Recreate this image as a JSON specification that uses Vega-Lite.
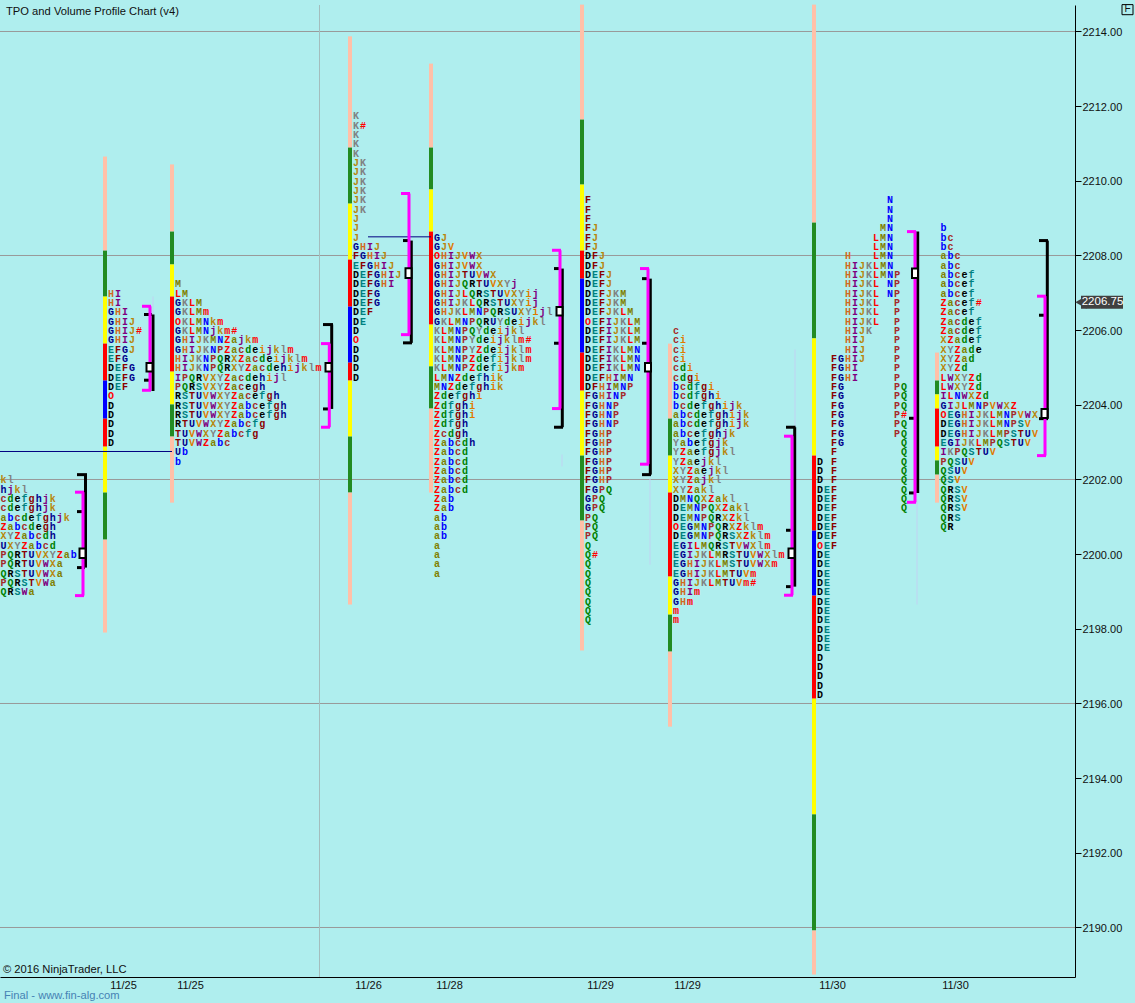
{
"$schema":"https://vega.github.io/schema/vega-lite/v6.json",
"width":1075,"height":972,"autosize":"none",
"padding":{"left":0,"top":5,"right":60,"bottom":26},
"background":"#AFEEEE",
"config":{"view":{"stroke":null},"text":{"font":"Liberation Mono","fontWeight":"bold","fontSize":10,"align":"center","baseline":"middle","dy":1}},
"resolve":{"scale":{"color":"independent"}},
"datasets":{
"grid":[{"p":2214},{"p":2208},{"p":2202},{"p":2196},{"p":2190}],
"sep":[{"x":319.5}],
"bars":[
{"x":105,"p":2210.65,"p2":2208.13,"b":"pale"},{"x":105,"p":2208.13,"p2":2206.9,"b":"green"},{"x":105,"p":2206.9,"p2":2205.64,"b":"yellow"},{"x":105,"p":2205.64,"p2":2204.65,"b":"red"},{"x":105,"p":2204.65,"p2":2203.63,"b":"blue"},{"x":105,"p":2203.63,"p2":2202.88,"b":"red"},{"x":105,"p":2202.88,"p2":2201.65,"b":"yellow"},{"x":105,"p":2201.65,"p2":2200.39,"b":"green"},{"x":105,"p":2200.39,"p2":2197.9,"b":"pale"},
{"x":172,"p":2210.44,"p2":2208.64,"b":"pale"},{"x":172,"p":2208.64,"p2":2207.76,"b":"green"},{"x":172,"p":2207.76,"p2":2206.9,"b":"yellow"},{"x":172,"p":2206.9,"p2":2204.89,"b":"red"},{"x":172,"p":2204.89,"p2":2204.01,"b":"yellow"},{"x":172,"p":2204.01,"p2":2203.15,"b":"green"},{"x":172,"p":2203.15,"p2":2201.38,"b":"pale"},
{"x":350,"p":2213.87,"p2":2210.89,"b":"pale"},{"x":350,"p":2210.89,"p2":2209.39,"b":"green"},{"x":350,"p":2209.39,"p2":2207.89,"b":"yellow"},{"x":350,"p":2207.89,"p2":2206.63,"b":"red"},{"x":350,"p":2206.63,"p2":2205.13,"b":"blue"},{"x":350,"p":2205.13,"p2":2204.65,"b":"red"},{"x":350,"p":2204.65,"p2":2203.15,"b":"yellow"},{"x":350,"p":2203.15,"p2":2201.65,"b":"green"},{"x":350,"p":2201.65,"p2":2198.65,"b":"pale"},
{"x":431,"p":2213.14,"p2":2210.89,"b":"pale"},{"x":431,"p":2210.89,"p2":2209.77,"b":"green"},{"x":431,"p":2209.77,"p2":2208.64,"b":"yellow"},{"x":431,"p":2208.64,"p2":2206.15,"b":"red"},{"x":431,"p":2206.15,"p2":2205.03,"b":"yellow"},{"x":431,"p":2205.03,"p2":2203.9,"b":"green"},{"x":431,"p":2203.9,"p2":2201.65,"b":"pale"},
{"x":582,"p":2214.72,"p2":2211.64,"b":"pale"},{"x":582,"p":2211.64,"p2":2209.9,"b":"green"},{"x":582,"p":2209.9,"p2":2208.13,"b":"yellow"},{"x":582,"p":2208.13,"p2":2207.38,"b":"red"},{"x":582,"p":2207.38,"p2":2205.4,"b":"blue"},{"x":582,"p":2205.4,"p2":2204.38,"b":"red"},{"x":582,"p":2204.38,"p2":2202.64,"b":"yellow"},{"x":582,"p":2202.64,"p2":2200.9,"b":"green"},{"x":582,"p":2200.9,"p2":2197.42,"b":"pale"},
{"x":670,"p":2205.64,"p2":2203.63,"b":"pale"},{"x":670,"p":2203.63,"p2":2202.64,"b":"green"},{"x":670,"p":2202.64,"p2":2201.65,"b":"yellow"},{"x":670,"p":2201.65,"p2":2199.4,"b":"red"},{"x":670,"p":2199.4,"p2":2198.38,"b":"yellow"},{"x":670,"p":2198.38,"p2":2197.39,"b":"green"},{"x":670,"p":2197.39,"p2":2195.38,"b":"pale"},
{"x":814,"p":2214.72,"p2":2208.88,"b":"pale"},{"x":814,"p":2208.88,"p2":2205.78,"b":"green"},{"x":814,"p":2205.78,"p2":2202.64,"b":"yellow"},{"x":814,"p":2202.64,"p2":2200.63,"b":"red"},{"x":814,"p":2200.63,"p2":2198.89,"b":"blue"},{"x":814,"p":2198.89,"p2":2196.13,"b":"red"},{"x":814,"p":2196.13,"p2":2193.03,"b":"yellow"},{"x":814,"p":2193.03,"p2":2189.92,"b":"green"},{"x":814,"p":2189.92,"p2":2188.74,"b":"pale"},
{"x":937,"p":2205.4,"p2":2204.65,"b":"pale"},{"x":937,"p":2204.65,"p2":2204.28,"b":"green"},{"x":937,"p":2204.28,"p2":2203.9,"b":"yellow"},{"x":937,"p":2203.9,"p2":2202.88,"b":"red"},{"x":937,"p":2202.88,"p2":2202.51,"b":"yellow"},{"x":937,"p":2202.51,"p2":2202.13,"b":"green"},{"x":937,"p":2202.13,"p2":2201.38,"b":"pale"}
],
"faint":[{"x":153,"p":2206.9,"p2":2205.7},{"x":795,"p":2205.48,"p2":2203.34},{"x":650,"p":2202.05,"p2":2199.72},{"x":562,"p":2202.67,"p2":2202.35},{"x":917,"p":2201.46,"p2":2198.65}],
"thin":[{"x":0,"x2":172,"p":2202.75},{"x":368,"x2":431,"p":2208.5}],
"black":[
{"x":85.5,"x2":85.5,"p":2202.13,"p2":2199.64},{"x":77,"x2":87,"p":2202.13,"p2":2202.13},{"x":77,"x2":84,"p":2201.14,"p2":2201.14},{"x":77,"x2":85,"p":2199.64,"p2":2199.64},
{"x":153,"x2":153,"p":2206.42,"p2":2204.37},{"x":144,"x2":152,"p":2206.42,"p2":2206.42},{"x":144,"x2":149,"p":2204.66,"p2":2204.66},
{"x":331.7,"x2":331.7,"p":2206.15,"p2":2203.89},{"x":323,"x2":333,"p":2206.15,"p2":2206.15},{"x":323,"x2":329,"p":2203.89,"p2":2203.89},
{"x":411.3,"x2":411.3,"p":2208.4,"p2":2205.66},{"x":403,"x2":408,"p":2208.4,"p2":2208.4},{"x":403,"x2":412,"p":2205.66,"p2":2205.66},
{"x":562.3,"x2":562.3,"p":2207.65,"p2":2203.4},{"x":554,"x2":559,"p":2207.65,"p2":2207.65},{"x":554,"x2":559,"p":2205.65,"p2":2205.65},{"x":554,"x2":563,"p":2203.4,"p2":2203.4},
{"x":650.3,"x2":650.3,"p":2207.38,"p2":2202.13},{"x":642,"x2":647,"p":2207.38,"p2":2207.38},{"x":642,"x2":647,"p":2205.65,"p2":2205.65},{"x":642,"x2":651,"p":2202.13,"p2":2202.13},
{"x":794.7,"x2":794.7,"p":2203.4,"p2":2199.13},{"x":786,"x2":795.5,"p":2203.4,"p2":2203.4},{"x":786,"x2":791,"p":2200.64,"p2":2200.64},{"x":786,"x2":791,"p":2199.13,"p2":2199.13},
{"x":917.7,"x2":917.7,"p":2208.64,"p2":2201.64},{"x":909,"x2":914,"p":2203.64,"p2":2203.64},{"x":909,"x2":914,"p":2201.64,"p2":2201.64},
{"x":1047.3,"x2":1047.3,"p":2208.4,"p2":2203.63},{"x":1039,"x2":1048,"p":2208.4,"p2":2208.4},{"x":1039,"x2":1044,"p":2206.4,"p2":2206.4},{"x":1039,"x2":1048,"p":2203.63,"p2":2203.63}
],
"magenta":[
{"x":83,"x2":83,"p":2201.66,"p2":2198.89},{"x":75,"x2":84,"p":2201.66,"p2":2201.66},{"x":75,"x2":84,"p":2198.89,"p2":2198.89},
{"x":150,"x2":150,"p":2206.64,"p2":2204.39},{"x":142,"x2":151,"p":2206.64,"p2":2206.64},{"x":142,"x2":151,"p":2204.39,"p2":2204.39},
{"x":329.3,"x2":329.3,"p":2205.64,"p2":2203.4},{"x":321,"x2":330,"p":2205.64,"p2":2205.64},{"x":321,"x2":330,"p":2203.4,"p2":2203.4},
{"x":409,"x2":409,"p":2209.66,"p2":2205.88},{"x":401,"x2":410,"p":2209.66,"p2":2209.66},{"x":401,"x2":410,"p":2205.88,"p2":2205.88},
{"x":560,"x2":560,"p":2208.14,"p2":2203.9},{"x":552,"x2":561,"p":2208.14,"p2":2208.14},{"x":552,"x2":561,"p":2203.9,"p2":2203.9},
{"x":648,"x2":648,"p":2207.65,"p2":2202.41},{"x":640,"x2":649,"p":2207.65,"p2":2207.65},{"x":640,"x2":649,"p":2202.41,"p2":2202.41},
{"x":792,"x2":792,"p":2203.16,"p2":2198.9},{"x":784,"x2":793,"p":2203.16,"p2":2203.16},{"x":784,"x2":793,"p":2198.9,"p2":2198.9},
{"x":915,"x2":915,"p":2208.64,"p2":2201.39},{"x":907,"x2":916,"p":2208.64,"p2":2208.64},{"x":907,"x2":916,"p":2201.39,"p2":2201.39},
{"x":1045,"x2":1045,"p":2206.91,"p2":2202.64},{"x":1037,"x2":1046,"p":2206.91,"p2":2206.91},{"x":1037,"x2":1046,"p":2202.64,"p2":2202.64}
],
"poc":[
{"x":79.5,"x2":85.5,"p":2200.15,"p2":2199.9},{"x":146.5,"x2":152.5,"p":2205.12,"p2":2204.89},{"x":325.5,"x2":331.5,"p":2205.12,"p2":2204.89},{"x":405.5,"x2":411.5,"p":2207.66,"p2":2207.4},{"x":556.5,"x2":562.5,"p":2206.62,"p2":2206.39},{"x":645,"x2":651,"p":2205.12,"p2":2204.89},{"x":788.5,"x2":794.5,"p":2200.15,"p2":2199.9},{"x":912,"x2":918,"p":2207.65,"p2":2207.4},{"x":1041.5,"x2":1047.5,"p":2203.89,"p2":2203.65}
],
"letters":[
{"x":3.5,"p":2202,"s":["k","l"]},{"x":3.5,"p":2201.75,"s":["h","j","k","l"]},{"x":3.5,"p":2201.5,"s":["c","d","e","f","g","h","j","k"]},{"x":3.5,"p":2201.25,"s":["c","d","e","f","g","h","j","k"]},{"x":3.5,"p":2201,"s":["a","b","c","d","e","f","g","h","j","k"]},{"x":3.5,"p":2200.75,"s":["Z","a","b","c","d","e","g","h"]},{"x":3.5,"p":2200.5,"s":["X","Y","Z","a","b","c","d","h"]},{"x":3.5,"p":2200.25,"s":["U","X","Y","Z","a","b","c","d"]},{"x":3.5,"p":2200,"s":["P","Q","R","T","U","V","X","Y","Z","a","b"]},{"x":3.5,"p":2199.75,"s":["P","Q","R","T","U","V","W","X","a"]},{"x":3.5,"p":2199.5,"s":["Q","R","S","T","U","V","W","X","a"]},{"x":3.5,"p":2199.25,"s":["P","Q","R","S","T","V","W","a"]},{"x":3.5,"p":2199,"s":["Q","R","S","W","a"]},
{"x":111,"p":2207,"s":["H","I"]},{"x":111,"p":2206.75,"s":["H","I"]},{"x":111,"p":2206.5,"s":["G","H","I"]},{"x":111,"p":2206.25,"s":["G","H","I","J"]},{"x":111,"p":2206,"s":["G","H","I","J","#"]},{"x":111,"p":2205.75,"s":["G","H","I","J"]},{"x":111,"p":2205.5,"s":["E","F","G","J"]},{"x":111,"p":2205.25,"s":["E","F","G"]},{"x":111,"p":2205,"s":["D","E","F","G"]},{"x":111,"p":2204.75,"s":["D","E","F","G"]},{"x":111,"p":2204.5,"s":["D","E","F"]},{"x":111,"p":2204.25,"s":["O"]},{"x":111,"p":2204,"s":["D"]},{"x":111,"p":2203.75,"s":["D"]},{"x":111,"p":2203.5,"s":["D"]},{"x":111,"p":2203.25,"s":["D"]},{"x":111,"p":2203,"s":["D"]},
{"x":178,"p":2207.25,"s":["M"]},{"x":178,"p":2207,"s":["L","M"]},{"x":178,"p":2206.75,"s":["G","K","L","M"]},{"x":178,"p":2206.5,"s":["G","K","L","M","m"]},{"x":178,"p":2206.25,"s":["O","K","L","M","N","k","m"]},{"x":178,"p":2206,"s":["G","K","L","M","N","j","k","m","#"]},{"x":178,"p":2205.75,"s":["G","H","I","J","K","M","N","Z","a","j","k","m"]},{"x":178,"p":2205.5,"s":["G","H","I","J","K","N","P","Z","a","c","d","e","i","j","k","l","m"]},{"x":178,"p":2205.25,"s":["H","I","J","K","N","P","Q","R","X","Z","a","c","d","e","i","j","k","l","m"]},{"x":178,"p":2205,"s":["H","I","J","K","N","P","Q","R","X","Y","Z","a","c","d","e","h","i","j","k","l","m"]},{"x":178,"p":2204.75,"s":["I","P","Q","R","V","X","Y","Z","a","c","d","e","h","i","j","l"]},{"x":178,"p":2204.5,"s":["P","Q","R","S","V","X","Y","Z","a","c","e","g","h"]},{"x":178,"p":2204.25,"s":["R","S","T","U","V","W","X","Y","Z","a","c","e","f","g","h"]},{"x":178,"p":2204,"s":["R","S","T","U","V","W","X","Y","Z","a","b","c","e","f","g","h"]},{"x":178,"p":2203.75,"s":["R","S","T","U","V","W","X","Y","Z","a","b","c","e","f","g","h"]},{"x":178,"p":2203.5,"s":["R","T","U","V","W","X","Y","Z","a","b","c","f","g"]},{"x":178,"p":2203.25,"s":["T","U","V","W","X","Y","Z","a","b","c","f","g"]},{"x":178,"p":2203,"s":["T","U","V","W","Z","a","b","c"]},{"x":178,"p":2202.75,"s":["U","b"]},{"x":178,"p":2202.5,"s":["b"]},
{"x":356,"p":2211.75,"s":["K"]},{"x":356,"p":2211.5,"s":["K","#"]},{"x":356,"p":2211.25,"s":["K"]},{"x":356,"p":2211,"s":["K"]},{"x":356,"p":2210.75,"s":["K"]},{"x":356,"p":2210.5,"s":["J","K"]},{"x":356,"p":2210.25,"s":["J","K"]},{"x":356,"p":2210,"s":["J","K"]},{"x":356,"p":2209.75,"s":["J","K"]},{"x":356,"p":2209.5,"s":["J","K"]},{"x":356,"p":2209.25,"s":["J","K"]},{"x":356,"p":2209,"s":["J"]},{"x":356,"p":2208.75,"s":["J"]},{"x":356,"p":2208.5,"s":["J"]},{"x":356,"p":2208.25,"s":["G","H","I","J"]},{"x":356,"p":2208,"s":["F","G","H","I","J"]},{"x":356,"p":2207.75,"s":["E","F","G","H","I","J"]},{"x":356,"p":2207.5,"s":["D","E","F","G","H","I","J"]},{"x":356,"p":2207.25,"s":["D","E","F","G","H","I"]},{"x":356,"p":2207,"s":["D","E","F","G"]},{"x":356,"p":2206.75,"s":["D","E","F","G"]},{"x":356,"p":2206.5,"s":["D","E","F"]},{"x":356,"p":2206.25,"s":["D","E"]},{"x":356,"p":2206,"s":["D"]},{"x":356,"p":2205.75,"s":["O"]},{"x":356,"p":2205.5,"s":["D"]},{"x":356,"p":2205.25,"s":["D"]},{"x":356,"p":2205,"s":["D"]},{"x":356,"p":2204.75,"s":["D"]},
{"x":437,"p":2208.5,"s":["G","J"]},{"x":437,"p":2208.25,"s":["G","J","V"]},{"x":437,"p":2208,"s":["O","H","I","J","V","W","X"]},{"x":437,"p":2207.75,"s":["G","H","I","J","V","W","X"]},{"x":437,"p":2207.5,"s":["G","H","I","J","T","U","V","W","X"]},{"x":437,"p":2207.25,"s":["G","H","I","J","Q","R","T","U","V","X","Y","j"]},{"x":437,"p":2207,"s":["G","H","I","J","L","Q","R","S","T","U","V","X","Y","i","j"]},{"x":437,"p":2206.75,"s":["G","H","I","J","K","L","Q","R","S","T","U","X","Y","i","j"]},{"x":437,"p":2206.5,"s":["G","H","J","K","L","M","N","P","Q","R","S","U","X","Y","i","j","l"]},{"x":437,"p":2206.25,"s":["G","K","L","M","N","P","Q","R","U","Y","d","e","i","j","k","l"]},{"x":437,"p":2206,"s":["K","L","M","N","P","Q","Y","d","e","i","j","k","l"]},{"x":437,"p":2205.75,"s":["K","L","M","N","P","Y","d","e","i","j","k","l","m","#"]},{"x":437,"p":2205.5,"s":["K","L","M","N","P","Y","Z","d","e","i","j","k","l","m"]},{"x":437,"p":2205.25,"s":["K","L","M","N","P","Z","d","e","f","i","j","k","l","m"]},{"x":437,"p":2205,"s":["K","L","M","N","P","Z","d","e","f","i","j","k","m"]},{"x":437,"p":2204.75,"s":["L","M","N","Z","d","e","f","h","i","k"]},{"x":437,"p":2204.5,"s":["M","N","Z","d","e","f","g","h","i","k"]},{"x":437,"p":2204.25,"s":["Z","d","e","f","g","h","i"]},{"x":437,"p":2204,"s":["Z","d","f","g","h","i"]},{"x":437,"p":2203.75,"s":["Z","d","f","g","h","i"]},{"x":437,"p":2203.5,"s":["Z","d","f","g","h"]},{"x":437,"p":2203.25,"s":["Z","c","d","g","h"]},{"x":437,"p":2203,"s":["Z","a","b","c","d","h"]},{"x":437,"p":2202.75,"s":["Z","a","b","c","d"]},{"x":437,"p":2202.5,"s":["Z","a","b","c","d"]},{"x":437,"p":2202.25,"s":["Z","a","b","c","d"]},{"x":437,"p":2202,"s":["Z","a","b","c","d"]},{"x":437,"p":2201.75,"s":["Z","a","b","c","d"]},{"x":437,"p":2201.5,"s":["Z","a","b"]},{"x":437,"p":2201.25,"s":["Z","a","b"]},{"x":437,"p":2201,"s":["a","b"]},{"x":437,"p":2200.75,"s":["a","b"]},{"x":437,"p":2200.5,"s":["a","b"]},{"x":437,"p":2200.25,"s":["a"]},{"x":437,"p":2200,"s":["a"]},{"x":437,"p":2199.75,"s":["a"]},{"x":437,"p":2199.5,"s":["a"]},
{"x":588,"p":2209.5,"s":["F"]},{"x":588,"p":2209.25,"s":["F"]},{"x":588,"p":2209,"s":["F"]},{"x":588,"p":2208.75,"s":["F","J"]},{"x":588,"p":2208.5,"s":["F","J"]},{"x":588,"p":2208.25,"s":["F","J"]},{"x":588,"p":2208,"s":["D","F","J"]},{"x":588,"p":2207.75,"s":["D","F","J"]},{"x":588,"p":2207.5,"s":["D","E","F","J"]},{"x":588,"p":2207.25,"s":["D","E","F","J"]},{"x":588,"p":2207,"s":["D","E","F","J","K","M"]},{"x":588,"p":2206.75,"s":["D","E","F","J","K","M"]},{"x":588,"p":2206.5,"s":["D","E","F","J","K","L","M"]},{"x":588,"p":2206.25,"s":["O","E","F","I","J","K","L","M"]},{"x":588,"p":2206,"s":["D","E","F","I","J","K","L","M"]},{"x":588,"p":2205.75,"s":["D","E","F","I","J","K","L","M"]},{"x":588,"p":2205.5,"s":["D","E","F","I","K","L","M","N"]},{"x":588,"p":2205.25,"s":["D","E","F","I","K","L","M","N"]},{"x":588,"p":2205,"s":["D","E","F","I","K","L","M","N"]},{"x":588,"p":2204.75,"s":["D","E","F","H","I","M","N"]},{"x":588,"p":2204.5,"s":["D","F","H","I","M","N","P"]},{"x":588,"p":2204.25,"s":["F","G","H","I","N","P"]},{"x":588,"p":2204,"s":["F","G","H","N","P"]},{"x":588,"p":2203.75,"s":["F","G","H","N","P"]},{"x":588,"p":2203.5,"s":["F","G","H","N","P"]},{"x":588,"p":2203.25,"s":["F","G","H","P"]},{"x":588,"p":2203,"s":["F","G","H","P"]},{"x":588,"p":2202.75,"s":["F","G","H","P"]},{"x":588,"p":2202.5,"s":["F","G","H","P"]},{"x":588,"p":2202.25,"s":["F","G","H","P"]},{"x":588,"p":2202,"s":["F","G","H","P"]},{"x":588,"p":2201.75,"s":["F","G","P","Q"]},{"x":588,"p":2201.5,"s":["G","P","Q"]},{"x":588,"p":2201.25,"s":["G","P","Q"]},{"x":588,"p":2201,"s":["P","Q"]},{"x":588,"p":2200.75,"s":["P","Q"]},{"x":588,"p":2200.5,"s":["P","Q"]},{"x":588,"p":2200.25,"s":["Q"]},{"x":588,"p":2200,"s":["Q","#"]},{"x":588,"p":2199.75,"s":["Q"]},{"x":588,"p":2199.5,"s":["Q"]},{"x":588,"p":2199.25,"s":["Q"]},{"x":588,"p":2199,"s":["Q"]},{"x":588,"p":2198.75,"s":["Q"]},{"x":588,"p":2198.5,"s":["Q"]},{"x":588,"p":2198.25,"s":["Q"]},
{"x":676,"p":2206,"s":["c"]},{"x":676,"p":2205.75,"s":["c","i"]},{"x":676,"p":2205.5,"s":["c","i"]},{"x":676,"p":2205.25,"s":["c","i"]},{"x":676,"p":2205,"s":["c","d","i"]},{"x":676,"p":2204.75,"s":["c","d","g","i"]},{"x":676,"p":2204.5,"s":["b","c","d","f","g","i"]},{"x":676,"p":2204.25,"s":["b","c","d","f","g","h","i"]},{"x":676,"p":2204,"s":["b","c","d","e","f","g","h","i","j","k"]},{"x":676,"p":2203.75,"s":["a","b","c","d","e","f","g","h","i","j","k"]},{"x":676,"p":2203.5,"s":["a","b","c","d","e","f","g","h","i","j","k"]},{"x":676,"p":2203.25,"s":["a","b","c","e","f","g","h","j","k"]},{"x":676,"p":2203,"s":["Y","a","b","e","f","g","j","k"]},{"x":676,"p":2202.75,"s":["Y","Z","a","e","f","g","j","k","l"]},{"x":676,"p":2202.5,"s":["Y","Z","a","e","j","k","l"]},{"x":676,"p":2202.25,"s":["X","Y","Z","a","e","j","k","l"]},{"x":676,"p":2202,"s":["X","Y","Z","a","j","k","l"]},{"x":676,"p":2201.75,"s":["X","Y","Z","a","k","l"]},{"x":676,"p":2201.5,"s":["D","M","N","Q","X","Z","a","k","l"]},{"x":676,"p":2201.25,"s":["D","E","M","N","P","Q","X","Z","a","k","l"]},{"x":676,"p":2201,"s":["D","E","M","N","P","Q","R","X","Z","k","l"]},{"x":676,"p":2200.75,"s":["O","E","G","M","N","P","Q","R","X","Z","k","l","m"]},{"x":676,"p":2200.5,"s":["D","E","G","M","N","P","Q","R","S","X","Z","k","l","m"]},{"x":676,"p":2200.25,"s":["E","G","I","L","M","Q","R","S","T","V","W","X","l","m"]},{"x":676,"p":2200,"s":["E","G","I","J","K","L","M","R","S","T","U","V","W","X","l","m"]},{"x":676,"p":2199.75,"s":["E","G","H","I","J","K","L","M","S","T","U","V","W","X","m"]},{"x":676,"p":2199.5,"s":["E","G","H","I","J","K","L","M","T","U","V","m"]},{"x":676,"p":2199.25,"s":["G","H","I","J","K","L","M","T","U","V","m","#"]},{"x":676,"p":2199,"s":["G","H","I","m"]},{"x":676,"p":2198.75,"s":["G","H","m"]},{"x":676,"p":2198.5,"s":["m"]},{"x":676,"p":2198.25,"s":["m"]},
{"x":890,"p":2209.5,"s":["N"]},{"x":890,"p":2209.25,"s":["N"]},{"x":890,"p":2209,"s":["N"]},{"x":883,"p":2208.75,"s":["M","N"]},{"x":876,"p":2208.5,"s":["L","M","N"]},{"x":876,"p":2208.25,"s":["L","M","N"]},{"x":848,"p":2208,"s":["H"]},{"x":876,"p":2208,"s":["L","M","N"]},{"x":848,"p":2207.75,"s":["H","I","J","K","L","M","N"]},{"x":848,"p":2207.5,"s":["H","I","J","K","L","M","N","P"]},{"x":848,"p":2207.25,"s":["H","I","J","K","L"]},{"x":890,"p":2207.25,"s":["N","P"]},{"x":848,"p":2207,"s":["H","I","J","K","L"]},{"x":890,"p":2207,"s":["N","P"]},{"x":848,"p":2206.75,"s":["H","I","J","K","L"]},{"x":897,"p":2206.75,"s":["P"]},{"x":848,"p":2206.5,"s":["H","I","J","K","L"]},{"x":897,"p":2206.5,"s":["P"]},{"x":848,"p":2206.25,"s":["H","I","J","K","L"]},{"x":897,"p":2206.25,"s":["P"]},{"x":848,"p":2206,"s":["H","I","J","K"]},{"x":897,"p":2206,"s":["P"]},{"x":848,"p":2205.75,"s":["H","I","J"]},{"x":897,"p":2205.75,"s":["P"]},{"x":848,"p":2205.5,"s":["H","I","J"]},{"x":897,"p":2205.5,"s":["P"]},{"x":834,"p":2205.25,"s":["F","G","H","I","J"]},{"x":897,"p":2205.25,"s":["P"]},{"x":834,"p":2205,"s":["F","G","H","I"]},{"x":897,"p":2205,"s":["P"]},{"x":834,"p":2204.75,"s":["F","G","H","I"]},{"x":897,"p":2204.75,"s":["P"]},{"x":834,"p":2204.5,"s":["F","G"]},{"x":897,"p":2204.5,"s":["P","Q"]},{"x":834,"p":2204.25,"s":["F","G"]},{"x":897,"p":2204.25,"s":["P","Q"]},{"x":834,"p":2204,"s":["F","G"]},{"x":897,"p":2204,"s":["P","Q"]},{"x":834,"p":2203.75,"s":["F","G"]},{"x":897,"p":2203.75,"s":["P","#"]},{"x":834,"p":2203.5,"s":["F","G"]},{"x":897,"p":2203.5,"s":["P","Q"]},{"x":834,"p":2203.25,"s":["F","G"]},{"x":897,"p":2203.25,"s":["P","Q"]},{"x":834,"p":2203,"s":["F","G"]},{"x":904,"p":2203,"s":["Q"]},{"x":834,"p":2202.75,"s":["F"]},{"x":904,"p":2202.75,"s":["Q"]},{"x":820,"p":2202.5,"s":["D"]},{"x":834,"p":2202.5,"s":["F"]},{"x":904,"p":2202.5,"s":["Q"]},{"x":820,"p":2202.25,"s":["D"]},{"x":834,"p":2202.25,"s":["F"]},{"x":904,"p":2202.25,"s":["Q"]},{"x":820,"p":2202,"s":["D"]},{"x":834,"p":2202,"s":["F"]},{"x":904,"p":2202,"s":["Q"]},{"x":820,"p":2201.75,"s":["D","E","F"]},{"x":904,"p":2201.75,"s":["Q"]},{"x":820,"p":2201.5,"s":["D","E","F"]},{"x":904,"p":2201.5,"s":["Q"]},{"x":820,"p":2201.25,"s":["D","E","F"]},{"x":904,"p":2201.25,"s":["Q"]},{"x":820,"p":2201,"s":["D","E","F"]},{"x":820,"p":2200.75,"s":["D","E","F"]},{"x":820,"p":2200.5,"s":["D","E","F"]},{"x":820,"p":2200.25,"s":["O","E","F"]},{"x":820,"p":2200,"s":["D","E"]},{"x":820,"p":2199.75,"s":["D","E"]},{"x":820,"p":2199.5,"s":["D","E"]},{"x":820,"p":2199.25,"s":["D","E"]},{"x":820,"p":2199,"s":["D","E"]},{"x":820,"p":2198.75,"s":["D","E"]},{"x":820,"p":2198.5,"s":["D","E"]},{"x":820,"p":2198.25,"s":["D","E"]},{"x":820,"p":2198,"s":["D","E"]},{"x":820,"p":2197.75,"s":["D","E"]},{"x":820,"p":2197.5,"s":["D","E"]},{"x":820,"p":2197.25,"s":["D"]},{"x":820,"p":2197,"s":["D"]},{"x":820,"p":2196.75,"s":["D"]},{"x":820,"p":2196.5,"s":["D"]},{"x":820,"p":2196.25,"s":["D"]},
{"x":943.5,"p":2208.75,"s":["b"]},{"x":943.5,"p":2208.5,"s":["b","c"]},{"x":943.5,"p":2208.25,"s":["b","c"]},{"x":943.5,"p":2208,"s":["a","b","c"]},{"x":943.5,"p":2207.75,"s":["a","b","c"]},{"x":943.5,"p":2207.5,"s":["a","b","c","e","f"]},{"x":943.5,"p":2207.25,"s":["a","b","c","e","f"]},{"x":943.5,"p":2207,"s":["a","b","c","e","f"]},{"x":943.5,"p":2206.75,"s":["Z","a","c","e","f","#"]},{"x":943.5,"p":2206.5,"s":["Z","a","c","e","f"]},{"x":943.5,"p":2206.25,"s":["Z","a","c","d","e","f"]},{"x":943.5,"p":2206,"s":["Z","a","c","d","e","f"]},{"x":943.5,"p":2205.75,"s":["X","Z","a","d","e","f"]},{"x":943.5,"p":2205.5,"s":["X","Y","Z","a","d","e"]},{"x":943.5,"p":2205.25,"s":["X","Y","Z","a","d"]},{"x":943.5,"p":2205,"s":["X","Y","Z","d"]},{"x":943.5,"p":2204.75,"s":["L","W","X","Y","Z","d"]},{"x":943.5,"p":2204.5,"s":["L","W","X","Y","Z","d"]},{"x":943.5,"p":2204.25,"s":["I","L","N","W","X","Z","d"]},{"x":943.5,"p":2204,"s":["G","I","J","L","M","N","P","V","W","X","Z"]},{"x":943.5,"p":2203.75,"s":["O","E","G","H","I","J","K","L","M","N","P","V","W","X"]},{"x":943.5,"p":2203.5,"s":["D","E","G","H","I","J","K","L","M","N","P","S","V"]},{"x":943.5,"p":2203.25,"s":["D","E","G","H","I","J","K","L","M","P","S","T","U","V"]},{"x":943.5,"p":2203,"s":["E","G","I","J","K","L","M","P","Q","S","T","U","V"]},{"x":943.5,"p":2202.75,"s":["I","K","P","Q","S","T","U","V"]},{"x":943.5,"p":2202.5,"s":["P","Q","S","U","V"]},{"x":943.5,"p":2202.25,"s":["Q","S","U","V"]},{"x":943.5,"p":2202,"s":["Q","S","V"]},{"x":943.5,"p":2201.75,"s":["Q","R","S","V"]},{"x":943.5,"p":2201.5,"s":["Q","R","S","V"]},{"x":943.5,"p":2201.25,"s":["Q","R","S","V"]},{"x":943.5,"p":2201,"s":["Q","R","S"]},{"x":943.5,"p":2200.75,"s":["Q","R"]}
],
"notes":[{"x":6,"p":2214.53,"t":"TPO and Volume Profile Chart (v4)","k":"dark"},{"x":3,"p":2188.87,"t":"© 2016 NinjaTrader, LLC","k":"dark"},{"x":4,"p":2188.16,"t":"Final - www.fin-alg.com","k":"link"}],
"last":[{"x":1081,"x2":1123,"p":2206.75,"t":"2206.75","tx":1102.5}],
"fbox":[{"x":1122,"x2":1133,"p":2214.72,"p2":2214.45,"tx":1127.5,"tp":2214.59,"t":"F"}]
},
"layer":[
{"data":{"name":"grid"},"mark":{"type":"rule","color":"#999999","strokeWidth":1},
 "encoding":{"y":{"field":"p","type":"quantitative","scale":{"domain":[2188.674,2214.7098],"nice":false,"zero":false},
   "axis":{"orient":"right","title":null,"grid":false,"values":[2190,2192,2194,2196,2198,2200,2202,2204,2206,2208,2210,2212,2214],"format":".2f","domainColor":"black","tickColor":"black","tickSize":6,"labelColor":"#101010","labelFont":"Liberation Sans","labelFontSize":11,"labelPadding":1,"labelOffset":1}}}},
{"data":{"name":"sep"},"mark":{"type":"rule","color":"#A3BDBD","strokeWidth":1},
 "encoding":{"x":{"field":"x","type":"quantitative","scale":{"domain":[0,1075],"nice":false,"zero":false},
   "axis":{"orient":"bottom","title":null,"grid":false,"values":[123,190,368,449,600,687,832,955],"labelExpr":"{'123':'11/25','190':'11/25','368':'11/26','449':'11/28','600':'11/29','687':'11/29','832':'11/30','955':'11/30'}[datum.value]","domainColor":"black","tickSize":0,"labelColor":"#101010","labelFont":"Liberation Sans","labelFontSize":11,"labelPadding":2,"labelFlush":false}}}},
{"data":{"name":"faint"},"mark":{"type":"rule","color":"#C0D2F2","strokeWidth":1},
 "encoding":{"x":{"field":"x","type":"quantitative"},"y":{"field":"p","type":"quantitative"},"y2":{"field":"p2"}}},
{"data":{"name":"bars"},"mark":{"type":"rule","strokeWidth":4},
 "encoding":{"x":{"field":"x","type":"quantitative"},"y":{"field":"p","type":"quantitative"},"y2":{"field":"p2"},
  "color":{"field":"b","type":"nominal","legend":null,"scale":{"domain":["pale","green","yellow","red","blue"],"range":["#FFC0A8","#228B22","#FFFF00","#FF0000","#0000FF"]}}}},
{"data":{"name":"thin"},"mark":{"type":"rule","color":"#000080","strokeWidth":1},
 "encoding":{"x":{"field":"x","type":"quantitative"},"x2":{"field":"x2"},"y":{"field":"p","type":"quantitative"}}},
{"data":{"name":"black"},"mark":{"type":"rule","color":"black","strokeWidth":3},
 "encoding":{"x":{"field":"x","type":"quantitative"},"x2":{"field":"x2"},"y":{"field":"p","type":"quantitative"},"y2":{"field":"p2"}}},
{"data":{"name":"magenta"},"mark":{"type":"rule","color":"#FF00FF","strokeWidth":3},
 "encoding":{"x":{"field":"x","type":"quantitative"},"x2":{"field":"x2"},"y":{"field":"p","type":"quantitative"},"y2":{"field":"p2"}}},
{"data":{"name":"poc"},"mark":{"type":"rect","fill":"#FFFFFF","stroke":"black","strokeWidth":2},
 "encoding":{"x":{"field":"x","type":"quantitative"},"x2":{"field":"x2"},"y":{"field":"p","type":"quantitative"},"y2":{"field":"p2"}}},
{"data":{"name":"letters"},
 "transform":[{"flatten":["s"],"as":["t"]},{"window":[{"op":"row_number","as":"i"}],"groupby":["x","p"]}],
 "encoding":{"x":{"field":"x","type":"quantitative"},
  "y":{"field":"p","type":"quantitative"},
  "text":{"field":"t","type":"nominal"},
  "color":{"field":"t","type":"nominal","legend":null,"scale":{
   "domain":["D","E","F","G","H","I","J","K","L","M","N","O","P","Q","R","S","T","U","V","W","X","Y","Z","a","b","c","d","e","f","g","h","i","j","k","l","m","#"],
   "range":["#000000","#008080","#8B0000","#00008B","#D2691E","#800080","#B8860B","#808080","#FF0000","#808000","#0000FF","#FF0000","#A52A2A","#008000","#000000","#008080","#8B0000","#00008B","#E07B00","#800080","#B8860B","#808080","#FF0000","#808000","#0000FF","#A52A2A","#008000","#000000","#008080","#8B0000","#00008B","#E07B00","#800080","#B8860B","#808080","#FF0000","#FF0000"]}}},
 "layer":[
  {"transform":[{"filter":"datum.i==1"}],"mark":{"type":"text","dx":0}},
  {"transform":[{"filter":"datum.i==2"}],"mark":{"type":"text","dx":7.03}},
  {"transform":[{"filter":"datum.i==3"}],"mark":{"type":"text","dx":14.06}},
  {"transform":[{"filter":"datum.i==4"}],"mark":{"type":"text","dx":21.09}},
  {"transform":[{"filter":"datum.i==5"}],"mark":{"type":"text","dx":28.12}},
  {"transform":[{"filter":"datum.i==6"}],"mark":{"type":"text","dx":35.15}},
  {"transform":[{"filter":"datum.i==7"}],"mark":{"type":"text","dx":42.18}},
  {"transform":[{"filter":"datum.i==8"}],"mark":{"type":"text","dx":49.21}},
  {"transform":[{"filter":"datum.i==9"}],"mark":{"type":"text","dx":56.24}},
  {"transform":[{"filter":"datum.i==10"}],"mark":{"type":"text","dx":63.27}},
  {"transform":[{"filter":"datum.i==11"}],"mark":{"type":"text","dx":70.3}},
  {"transform":[{"filter":"datum.i==12"}],"mark":{"type":"text","dx":77.33}},
  {"transform":[{"filter":"datum.i==13"}],"mark":{"type":"text","dx":84.36}},
  {"transform":[{"filter":"datum.i==14"}],"mark":{"type":"text","dx":91.39}},
  {"transform":[{"filter":"datum.i==15"}],"mark":{"type":"text","dx":98.42}},
  {"transform":[{"filter":"datum.i==16"}],"mark":{"type":"text","dx":105.45}},
  {"transform":[{"filter":"datum.i==17"}],"mark":{"type":"text","dx":112.48}},
  {"transform":[{"filter":"datum.i==18"}],"mark":{"type":"text","dx":119.51}},
  {"transform":[{"filter":"datum.i==19"}],"mark":{"type":"text","dx":126.54}},
  {"transform":[{"filter":"datum.i==20"}],"mark":{"type":"text","dx":133.57}},
  {"transform":[{"filter":"datum.i==21"}],"mark":{"type":"text","dx":140.6}}
 ]},
{"data":{"name":"notes"},"mark":{"type":"text","font":"Liberation Sans","fontWeight":"normal","fontSize":11.2,"align":"left","baseline":"middle","dy":0},
 "encoding":{"x":{"field":"x","type":"quantitative"},"y":{"field":"p","type":"quantitative"},"text":{"field":"t","type":"nominal"},
  "color":{"field":"k","type":"nominal","legend":null,"scale":{"domain":["dark","link"],"range":["#101010","#4682B4"]}}}},
{"data":{"name":"last"},"mark":{"type":"rule","color":"#404040","strokeWidth":13},
 "encoding":{"x":{"field":"x","type":"quantitative"},"x2":{"field":"x2"},"y":{"field":"p","type":"quantitative"}}},
{"data":{"name":"last"},"mark":{"type":"point","shape":"triangle-left","filled":true,"opacity":1,"color":"#404040","size":170},
 "encoding":{"x":{"field":"x","type":"quantitative"},"y":{"field":"p","type":"quantitative"}}},
{"data":{"name":"last"},"mark":{"type":"text","color":"#FFFFFF","font":"Liberation Sans","fontWeight":"normal","fontSize":11.5,"baseline":"middle","dy":0},
 "encoding":{"x":{"field":"tx","type":"quantitative"},"y":{"field":"p","type":"quantitative"},"text":{"field":"t","type":"nominal"}}},
{"data":{"name":"fbox"},"mark":{"type":"rect","fill":null,"fillOpacity":0,"stroke":"black","strokeWidth":1},
 "encoding":{"x":{"field":"x","type":"quantitative"},"x2":{"field":"x2"},"y":{"field":"p","type":"quantitative"},"y2":{"field":"p2"}}},
{"data":{"name":"fbox"},"mark":{"type":"text","color":"#101010","font":"Liberation Sans","fontWeight":"normal","fontSize":10,"baseline":"middle","dy":0},
 "encoding":{"x":{"field":"tx","type":"quantitative"},"y":{"field":"tp","type":"quantitative"},"text":{"field":"t","type":"nominal"}}}
]
}
